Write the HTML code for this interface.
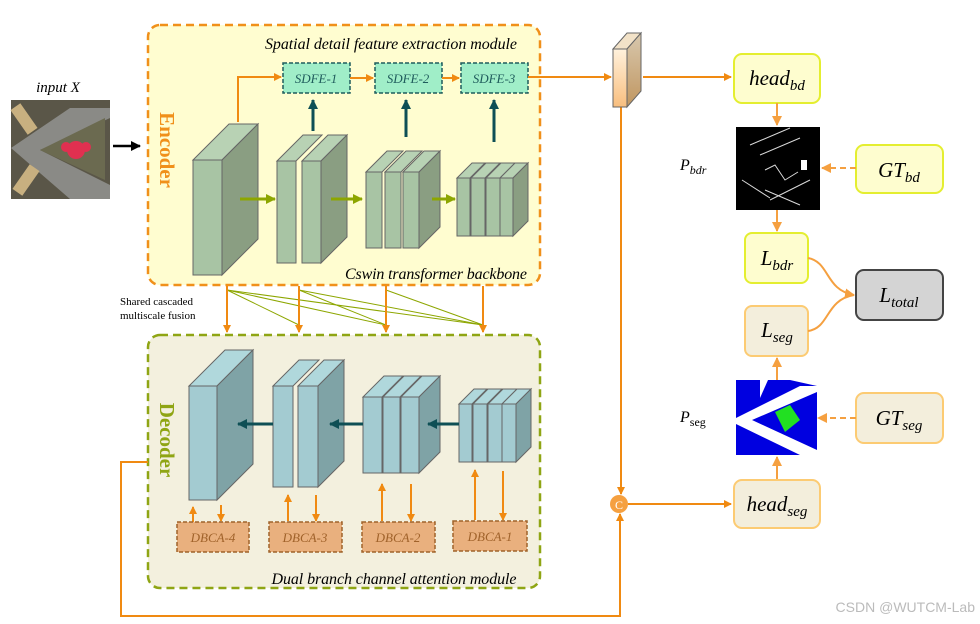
<!DOCTYPE html>
<html><head><meta charset="utf-8"><style>
html,body{margin:0;padding:0;background:#fff;width:980px;height:624px;overflow:hidden}
svg{display:block}
.ser{font-family:"Liberation Serif",serif}
</style></head><body>
<svg width="980" height="624" viewBox="0 0 980 624" xmlns="http://www.w3.org/2000/svg">
<defs>
<marker id="ao" markerWidth="8" markerHeight="8" refX="7" refY="4" orient="auto" markerUnits="userSpaceOnUse"><path d="M0,0 L8,4 L0,8 Z" fill="#F08A12"/></marker>
<marker id="ao2" markerWidth="10" markerHeight="10" refX="9" refY="5" orient="auto" markerUnits="userSpaceOnUse"><path d="M0,0 L10,5 L0,10 Z" fill="#F5A040"/></marker>
<marker id="ak" markerWidth="10" markerHeight="10" refX="9" refY="5" orient="auto" markerUnits="userSpaceOnUse"><path d="M0,0 L10,5 L0,10 Z" fill="#000"/></marker>
<marker id="ag" markerWidth="10" markerHeight="10" refX="9" refY="5" orient="auto" markerUnits="userSpaceOnUse"><path d="M0,0 L10,5 L0,10 Z" fill="#8DA600"/></marker>
<marker id="at" markerWidth="10" markerHeight="10" refX="9" refY="5" orient="auto" markerUnits="userSpaceOnUse"><path d="M0,0 L10,5 L0,10 Z" fill="#0E4F55"/></marker>
<linearGradient id="fg" x1="0" y1="0" x2="0" y2="1"><stop offset="0" stop-color="#FFF1DC"/><stop offset="1" stop-color="#F8BE7E"/></linearGradient>
<linearGradient id="fg2" x1="0" y1="0" x2="0" y2="1"><stop offset="0" stop-color="#D8C8AE"/><stop offset="1" stop-color="#C09660"/></linearGradient>
</defs>

<!-- input -->
<text x="58" y="92" class="ser" font-size="15" font-style="italic" text-anchor="middle">input X</text>
<rect x="11" y="100" width="99" height="99" fill="#5a5648"/>
<polygon points="11,148 70,108 110,108 110,118 40,150 110,185 110,199 70,199" fill="#8a8a86"/>
<polygon points="40,150 105,118 105,180" fill="#6b6a50"/>
<rect x="18" y="104" width="12" height="30" fill="#c8b080" transform="rotate(-35 24 119)"/>
<rect x="20" y="165" width="12" height="30" fill="#c8b080" transform="rotate(35 26 180)"/>
<circle cx="76" cy="150" r="9" fill="#e03050"/><circle cx="66" cy="147" r="5" fill="#e03050"/><circle cx="86" cy="147" r="5" fill="#e03050"/>
<line x1="113" y1="146" x2="140" y2="146" stroke="#000" stroke-width="2.5" marker-end="url(#ak)"/>

<!-- encoder box -->
<rect x="148" y="25" width="392" height="260" rx="12" fill="#FFFDD0" stroke="#F0901A" stroke-width="2.5" stroke-dasharray="8,5"/>
<text transform="translate(160,150) rotate(90)" class="ser" font-size="21" font-weight="bold" fill="#F0901A" text-anchor="middle">Encoder</text>
<text x="391" y="49" class="ser" font-size="16" font-style="italic" text-anchor="middle" textLength="252">Spatial detail feature extraction module</text>
<text x="436" y="279" class="ser" font-size="16" font-style="italic" text-anchor="middle" textLength="182">Cswin transformer backbone</text>

<!-- decoder box -->
<rect x="148" y="335" width="392" height="253" rx="12" fill="#F3F0DE" stroke="#8FA514" stroke-width="2.5" stroke-dasharray="8,5"/>
<text transform="translate(160,440) rotate(90)" class="ser" font-size="21" font-weight="bold" fill="#8FA514" text-anchor="middle">Decoder</text>
<text x="394" y="584" class="ser" font-size="16" font-style="italic" text-anchor="middle" textLength="245">Dual branch channel attention module</text>

<g id="blocks" stroke="#666" stroke-width="1">
<g fill="#A8C4A4">
<polygon points="193,160 229,124 258,124 222,160" fill="#B8D2B4"/>
<polygon points="222,160 258,124 258,239 222,275" fill="#8A9E82"/>
<rect x="193" y="160" width="29" height="115"/>
<polygon points="277,161 303,135 322,135 296,161" fill="#B8D2B4"/>
<rect x="277" y="161" width="19" height="102"/>
<polygon points="302,161 328,135 347,135 321,161" fill="#B8D2B4"/>
<polygon points="321,161 347,135 347,237 321,263" fill="#8A9E82"/>
<rect x="302" y="161" width="19" height="102"/>
<polygon points="366,172 387,151 403,151 382,172" fill="#B8D2B4"/>
<rect x="366" y="172" width="16" height="76"/>
<polygon points="385,172 406,151 422,151 401,172" fill="#B8D2B4"/>
<rect x="385" y="172" width="16" height="76"/>
<polygon points="403,172 424,151 440,151 419,172" fill="#B8D2B4"/>
<polygon points="419,172 440,151 440,227 419,248" fill="#8A9E82"/>
<rect x="403" y="172" width="16" height="76"/>
<polygon points="457,178 472,163 485,163 470,178" fill="#B8D2B4"/>
<rect x="457" y="178" width="13" height="58"/>
<polygon points="471,178 486,163 500,163 485,178" fill="#B8D2B4"/>
<rect x="471" y="178" width="14" height="58"/>
<polygon points="486,178 501,163 515,163 500,178" fill="#B8D2B4"/>
<rect x="486" y="178" width="14" height="58"/>
<polygon points="500,178 515,163 528,163 513,178" fill="#B8D2B4"/>
<polygon points="513,178 528,163 528,221 513,236" fill="#8A9E82"/>
<rect x="500" y="178" width="13" height="58"/>
</g>
<g fill="#A3CBD1">
<polygon points="189,386 225,350 253,350 217,386" fill="#B0D8DC"/>
<polygon points="217,386 253,350 253,464 217,500" fill="#7FA3A6"/>
<rect x="189" y="386" width="28" height="114"/>
<polygon points="273,386 299,360 319,360 293,386" fill="#B0D8DC"/>
<rect x="273" y="386" width="20" height="101"/>
<polygon points="298,386 324,360 344,360 318,386" fill="#B0D8DC"/>
<polygon points="318,386 344,360 344,461 318,487" fill="#7FA3A6"/>
<rect x="298" y="386" width="20" height="101"/>
<polygon points="363,397 384,376 403,376 382,397" fill="#B0D8DC"/>
<rect x="363" y="397" width="19" height="76"/>
<polygon points="383,397 404,376 421,376 400,397" fill="#B0D8DC"/>
<rect x="383" y="397" width="17" height="76"/>
<polygon points="401,397 422,376 440,376 419,397" fill="#B0D8DC"/>
<polygon points="419,397 440,376 440,452 419,473" fill="#7FA3A6"/>
<rect x="401" y="397" width="18" height="76"/>
<polygon points="459,404 474,389 487,389 472,404" fill="#B0D8DC"/>
<rect x="459" y="404" width="13" height="58"/>
<polygon points="473,404 488,389 502,389 487,404" fill="#B0D8DC"/>
<rect x="473" y="404" width="14" height="58"/>
<polygon points="488,404 503,389 517,389 502,404" fill="#B0D8DC"/>
<rect x="488" y="404" width="14" height="58"/>
<polygon points="502,404 517,389 531,389 516,404" fill="#B0D8DC"/>
<polygon points="516,404 531,389 531,447 516,462" fill="#7FA3A6"/>
<rect x="502" y="404" width="14" height="58"/>
</g>
</g>

<g stroke="#8DA600" stroke-width="3">
<line x1="240" y1="199" x2="275" y2="199" marker-end="url(#ag)"/>
<line x1="331" y1="199" x2="362" y2="199" marker-end="url(#ag)"/>
<line x1="432" y1="199" x2="455" y2="199" marker-end="url(#ag)"/>
</g>
<g stroke="#0E4F55" stroke-width="3">
<line x1="313" y1="131" x2="313" y2="100" marker-end="url(#at)"/>
<line x1="406" y1="137" x2="406" y2="100" marker-end="url(#at)"/>
<line x1="494" y1="142" x2="494" y2="100" marker-end="url(#at)"/>
<line x1="273" y1="424" x2="238" y2="424" marker-end="url(#at)"/>
<line x1="363" y1="424" x2="330" y2="424" marker-end="url(#at)"/>
<line x1="459" y1="424" x2="428" y2="424" marker-end="url(#at)"/>
</g>

<g stroke="#1F5C5C" stroke-width="1.5" stroke-dasharray="4,2" fill="#A0EEC8">
<rect x="283" y="63" width="67" height="30"/>
<rect x="375" y="63" width="67" height="30"/>
<rect x="461" y="63" width="67" height="30"/>
</g>
<g class="ser" font-size="13" font-style="italic" fill="#1F5C5C" text-anchor="middle">
<text x="316" y="83">SDFE-1</text><text x="408" y="83">SDFE-2</text><text x="494" y="83">SDFE-3</text>
</g>
<g stroke="#F08A12" stroke-width="2" fill="none">
<polyline points="238,122 238,77 281,77" marker-end="url(#ao)"/>
<line x1="350" y1="78" x2="373" y2="78" marker-end="url(#ao)"/>
<line x1="442" y1="78" x2="459" y2="78" marker-end="url(#ao)"/>
<line x1="528" y1="77" x2="611" y2="77" marker-end="url(#ao)"/>
<line x1="643" y1="77" x2="731" y2="77" marker-end="url(#ao)"/>
<line x1="621" y1="107" x2="621" y2="494" marker-end="url(#ao)"/>
<polyline points="148,462 121,462 121,616 620,616 620,514" marker-end="url(#ao)"/>
<line x1="628" y1="504" x2="731" y2="504" marker-end="url(#ao)"/>
</g>

<polygon points="613,49 627,33 641,33 627,49" fill="#F2E2C8" stroke="#666"/>
<polygon points="627,49 641,33 641,91 627,107" fill="url(#fg2)" stroke="#666"/>
<rect x="613" y="49" width="14" height="58" fill="url(#fg)" stroke="#666"/>

<text x="120" y="305" class="ser" font-size="11">Shared cascaded</text>
<text x="120" y="319" class="ser" font-size="11">multiscale fusion</text>
<g stroke="#8DA600" stroke-width="1">
<line x1="227" y1="290" x2="299" y2="325"/><line x1="227" y1="290" x2="386" y2="325"/><line x1="227" y1="290" x2="483" y2="325"/>
<line x1="299" y1="290" x2="386" y2="325"/><line x1="299" y1="290" x2="483" y2="325"/>
<line x1="386" y1="290" x2="483" y2="325"/>
</g>
<g stroke="#F08A12" stroke-width="2">
<line x1="227" y1="286" x2="227" y2="332" marker-end="url(#ao)"/>
<line x1="299" y1="286" x2="299" y2="332" marker-end="url(#ao)"/>
<line x1="386" y1="286" x2="386" y2="332" marker-end="url(#ao)"/>
<line x1="483" y1="286" x2="483" y2="332" marker-end="url(#ao)"/>
<line x1="193" y1="522" x2="193" y2="507" marker-end="url(#ao)"/>
<line x1="221" y1="505" x2="221" y2="521" marker-end="url(#ao)"/>
<line x1="288" y1="521" x2="288" y2="495" marker-end="url(#ao)"/>
<line x1="316" y1="495" x2="316" y2="521" marker-end="url(#ao)"/>
<line x1="382" y1="521" x2="382" y2="484" marker-end="url(#ao)"/>
<line x1="411" y1="484" x2="411" y2="521" marker-end="url(#ao)"/>
<line x1="475" y1="520" x2="475" y2="470" marker-end="url(#ao)"/>
<line x1="503" y1="471" x2="503" y2="520" marker-end="url(#ao)"/>
</g>
<g stroke="#A0622A" stroke-width="1.5" stroke-dasharray="4,2" fill="#E9B07E">
<rect x="177" y="522" width="72" height="30"/>
<rect x="269" y="522" width="73" height="30"/>
<rect x="362" y="522" width="73" height="30"/>
<rect x="453" y="521" width="74" height="30"/>
</g>
<g class="ser" font-size="13" font-style="italic" fill="#A0622A" text-anchor="middle">
<text x="213" y="542">DBCA-4</text><text x="305" y="542">DBCA-3</text><text x="398" y="542">DBCA-2</text><text x="490" y="541">DBCA-1</text>
</g>

<g stroke-width="2">
<rect x="734" y="54" width="86" height="49" rx="8" fill="#FEFDCF" stroke="#E4EE30"/>
<rect x="856" y="145" width="87" height="48" rx="8" fill="#FEFDCF" stroke="#E4EE30"/>
<rect x="745" y="233" width="63" height="50" rx="7" fill="#FEFDCF" stroke="#E4EE30"/>
<rect x="745" y="306" width="63" height="50" rx="7" fill="#F3EEDC" stroke="#FCCB73"/>
<rect x="856" y="270" width="87" height="50" rx="8" fill="#D4D4D4" stroke="#444"/>
<rect x="856" y="393" width="87" height="50" rx="8" fill="#F3EEDC" stroke="#FCCB73"/>
<rect x="734" y="480" width="86" height="48" rx="8" fill="#F3EEDC" stroke="#FCCB73"/>
</g>
<g class="ser" font-size="21" font-style="italic" text-anchor="middle">
<text x="777" y="85">head<tspan font-size="15" dy="5">bd</tspan></text>
<text x="899" y="177">GT<tspan font-size="15" dy="5">bd</tspan></text>
<text x="777" y="265">L<tspan font-size="15" dy="5">bdr</tspan></text>
<text x="777" y="337">L<tspan font-size="15" dy="5">seg</tspan></text>
<text x="899" y="302">L<tspan font-size="15" dy="5">total</tspan></text>
<text x="899" y="425">GT<tspan font-size="15" dy="5">seg</tspan></text>
<text x="777" y="511">head<tspan font-size="15" dy="5">seg</tspan></text>
</g>
<text x="680" y="170" class="ser" font-size="16" font-style="italic">P<tspan font-size="12" dy="4">bdr</tspan></text>
<text x="680" y="422" class="ser" font-size="16" font-style="italic">P<tspan font-size="12" font-style="normal" dy="4">seg</tspan></text>

<rect x="736" y="127" width="84" height="83" fill="#000"/>
<g stroke="#fff" stroke-width="1" fill="none" opacity="0.85">
<line x1="760" y1="155" x2="800" y2="138"/><line x1="765" y1="190" x2="800" y2="205"/>
<polyline points="765,170 775,165 785,180 798,172"/><line x1="742" y1="180" x2="770" y2="198"/>
<line x1="750" y1="145" x2="790" y2="128"/><line x1="770" y1="200" x2="810" y2="180"/>
</g>
<rect x="801" y="160" width="6" height="10" fill="#fff"/>

<rect x="736" y="380" width="81" height="75" fill="#0000E0"/>
<polygon points="736,418 800,386 817,386 817,392 752,420 817,450 817,455 800,455 736,424" fill="#fff"/>
<polygon points="760,380 768,380 760,398" fill="#fff"/>
<polygon points="790,380 817,380 817,386" fill="#fff"/>
<polygon points="775,412 790,405 800,420 785,432" fill="#22E022"/>
<circle cx="787" cy="416" r="8" fill="#22E022"/>

<g stroke="#F5A040" stroke-width="2" fill="none">
<line x1="777" y1="103" x2="777" y2="125" marker-end="url(#ao2)"/>
<line x1="777" y1="210" x2="777" y2="231" marker-end="url(#ao2)"/>
<line x1="856" y1="168" x2="822" y2="168" stroke-dasharray="6,4" marker-end="url(#ao2)"/>
<line x1="856" y1="418" x2="818" y2="418" stroke-dasharray="6,4" marker-end="url(#ao2)"/>
<line x1="777" y1="380" x2="777" y2="358" marker-end="url(#ao2)"/>
<line x1="777" y1="479" x2="777" y2="457" marker-end="url(#ao2)"/>
<path d="M808,258 C830,262 825,290 854,295" marker-end="url(#ao2)"/>
<path d="M808,331 C830,328 825,300 854,295"/>
</g>
<circle cx="619" cy="504" r="9" fill="#F5A040"/>
<text x="619" y="509" class="ser" font-size="12" fill="#fff" text-anchor="middle">C</text>

<text x="975" y="612" font-family="Liberation Sans,sans-serif" font-size="14" fill="#bbb" text-anchor="end">CSDN @WUTCM-Lab</text>
</svg>
</body></html>
